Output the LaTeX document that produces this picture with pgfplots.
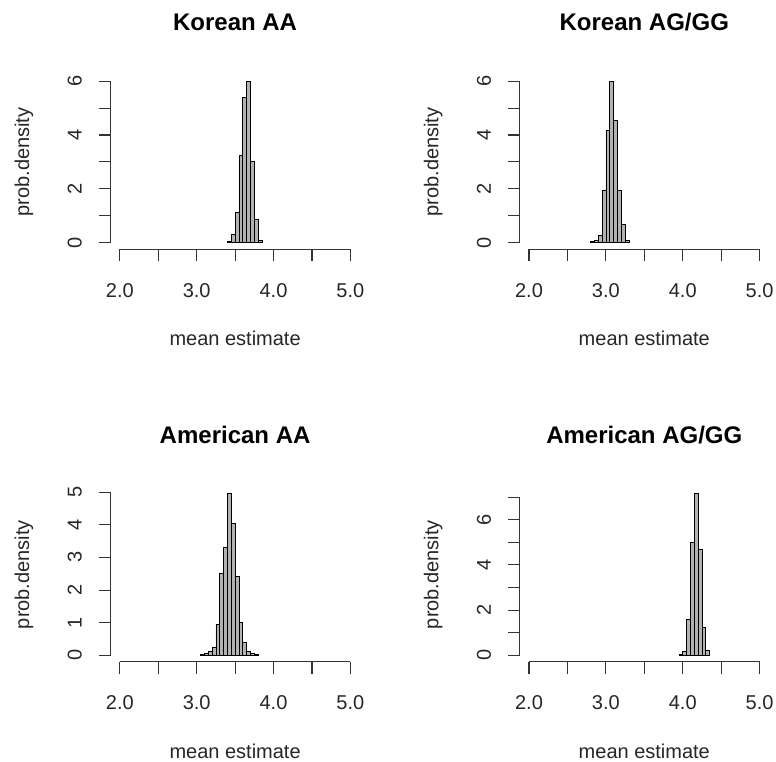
\documentclass[border=0pt]{standalone}
\usepackage{pgfplots}
\pgfplotsset{compat=1.18}
\usepackage{fontspec}
\setmainfont{Liberation Sans}
\tikzset{raxis/.style={line width=1.1pt, black!80}}
\pgfplotsset{
  rpanel/.style={
    scale only axis, width=249pt, height=174.5pt,
    xmin=1.88, xmax=5.12,
    axis x line=bottom, axis y line=left,
    axis line style={draw=none,-},
    xtick={2,2.5,3,3.5,4,4.5,5},
    xticklabels={2.0,,3.0,,4.0,,5.0},
    tick align=outside,
    major tick length=12pt,
    tick style={line width=1.1pt, black!80},
    xticklabel style={anchor=base},
    xticklabel shift=36pt,
    yticklabel style={rotate=90, anchor=base},
    yticklabel shift=17pt,
    tick label style={font=\fontsize{20}{24}\selectfont, text=black!85},
    every axis x label/.style={at={(axis description cs:0.5,0)}, anchor=base, yshift=-96.5pt, inner sep=0pt, font=\fontsize{20}{24}\selectfont, text=black!85},
    every axis y label/.style={at={(axis description cs:-0.3478,0.5)}, rotate=90, anchor=center, font=\fontsize{20}{24}\selectfont, text=black!85},
    every axis title/.style={at={(axis description cs:0.5,1)}, anchor=base, yshift=44pt, font=\fontsize{24}{28}\selectfont\bfseries},
    xlabel={mean estimate}, ylabel={prob.density},
    /pgf/number format/assume math mode=true,
    clip=false,
  },
  rbar/.style={ybar interval, fill=black!30, draw=black, line width=0.75pt},
}
\begin{document}
\begin{tikzpicture}
\useasboundingbox (0,0) rectangle (776pt,761pt);
% Korean AA
\begin{axis}[rpanel, at={(110.6pt,511.8pt)}, anchor=south west,
  ymin=-0.24, ymax=6.24, ytick={0,1,2,3,4,5,6}, yticklabels={0,,2,,4,,6},
  title={Korean AA}]
\addplot[rbar] coordinates {
(3.40,0.05) (3.45,0.30) (3.50,1.14) (3.55,3.23) (3.60,5.38) (3.65,6.00)
(3.70,3.02) (3.75,0.88) (3.80,0.10) (3.85,0.10)};
\draw[raxis] (axis cs:2,-0.24) -- (axis cs:5,-0.24);
\draw[raxis] (axis cs:1.88,0) -- (axis cs:1.88,6);
\end{axis}
% Korean AG/GG
\begin{axis}[rpanel, at={(519.8pt,511.8pt)}, anchor=south west,
  ymin=-0.24, ymax=6.24, ytick={0,1,2,3,4,5,6}, yticklabels={0,,2,,4,,6},
  title={Korean AG/GG}]
\addplot[rbar] coordinates {
(2.80,0.05) (2.85,0.10) (2.90,0.26) (2.95,1.96) (3.00,4.17) (3.05,6.00)
(3.10,4.55) (3.15,1.94) (3.20,0.70) (3.25,0.07) (3.30,0.07)};
\draw[raxis] (axis cs:2,-0.24) -- (axis cs:5,-0.24);
\draw[raxis] (axis cs:1.88,0) -- (axis cs:1.88,6);
\end{axis}
% American AA
\begin{axis}[rpanel, at={(110.6pt,99.2pt)}, anchor=south west,
  ymin=-0.198, ymax=5.148, ytick={0,1,2,3,4,5},
  title={American AA}]
\addplot[rbar] coordinates {
(3.05,0.02) (3.10,0.05) (3.15,0.12) (3.20,0.25) (3.25,0.95) (3.30,2.52)
(3.35,3.32) (3.40,4.95) (3.45,4.03) (3.50,2.41) (3.55,1.02) (3.60,0.41)
(3.65,0.12) (3.70,0.05) (3.75,0.02) (3.80,0.02)};
\draw[raxis] (axis cs:2,-0.198) -- (axis cs:5,-0.198);
\draw[raxis] (axis cs:1.88,0) -- (axis cs:1.88,5);
\end{axis}
% American AG/GG
\begin{axis}[rpanel, at={(519.8pt,99.2pt)}, anchor=south west,
  ymin=-0.286, ymax=7.436, ytick={0,1,2,3,4,5,6,7}, yticklabels={0,,2,,4,,6,},
  title={American AG/GG}]
\addplot[rbar] coordinates {
(3.95,0.03) (4.00,0.16) (4.05,1.60) (4.10,5.00) (4.15,7.15) (4.20,4.67)
(4.25,1.24) (4.30,0.20) (4.35,0.20)};
\draw[raxis] (axis cs:2,-0.286) -- (axis cs:5,-0.286);
\draw[raxis] (axis cs:1.88,0) -- (axis cs:1.88,7);
\end{axis}
\end{tikzpicture}
\end{document}
